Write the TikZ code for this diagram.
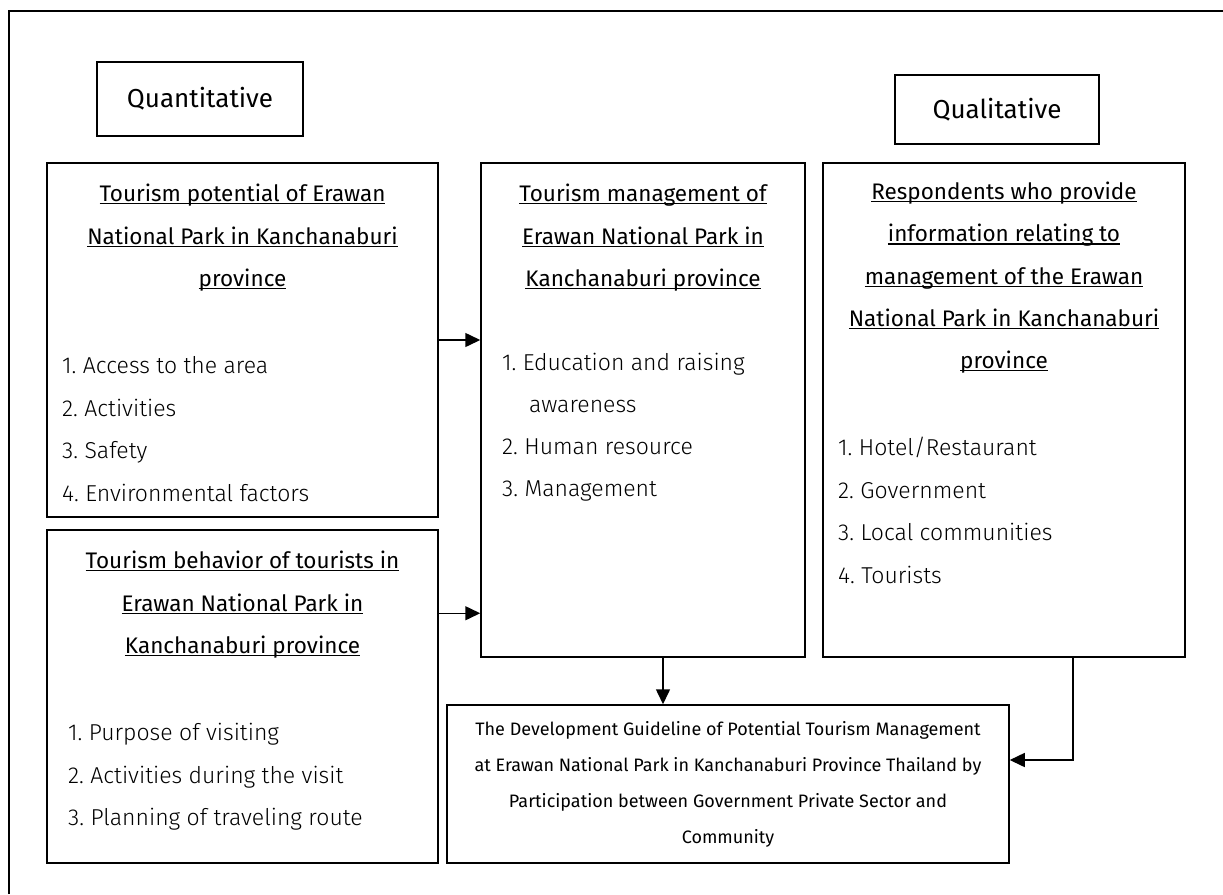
\documentclass[tikz,border=0pt]{standalone}
\usepackage{fontspec}
\setmainfont{Fira Sans}
\newfontfamily\lightfont{Fira Sans Light}
\usetikzlibrary{arrows.meta,calc}

\newsavebox\ulbox
\newcommand\ulined[1]{\sbox\ulbox{#1}\rlap{\rule[-2.8pt]{\wd\ulbox}{1.3pt}}\usebox\ulbox}

\tikzset{
  frame/.style={draw, line width=1.8pt},
  box/.style={draw, line width=1.5pt, inner sep=0pt},
  big/.style={font=\fontsize{26}{30}\selectfont},
  head/.style={font=\fontsize{22.5}{26}\selectfont, inner sep=0pt, text height=16pt, text depth=5pt},
  item/.style={font=\lightfont\fontsize{23}{26}\selectfont, anchor=west, inner sep=0pt, text height=16pt, text depth=5pt},
  small/.style={font=\fontsize{18}{36}\selectfont, align=center},
  arr/.style={line width=1.5pt, -{Triangle[length=15pt,width=14pt]}}
}

\begin{document}
\begin{tikzpicture}[x=1pt, y=-1pt]
    \useasboundingbox (0,0) rectangle (1223,894);
    \draw[frame] (9,894) -- (9,11) -- (1223,11);

    \node[box, big, minimum width=206, minimum height=74] (quant) at (200,99) {Quantitative};
    \node[box, big, minimum width=204, minimum height=69] (qual) at (997,109.5) {Qualitative};

    \node[box, minimum width=391, minimum height=354] (pot) at (242.5,340) {};
    \node[box, minimum width=391, minimum height=333] (beh) at (242.5,696.5) {};
    \node[box, minimum width=324, minimum height=494] (man) at (643,410) {};
    \node[box, minimum width=362, minimum height=494] (resp) at (1004,410) {};
    \node[box, minimum width=562, minimum height=158] (guide) at (728,784) {};

    \foreach \t [count=\i from 0] in {Tourism potential of Erawan, National Park in Kanchanaburi, province}
        \node[head] (potT\i) at (242.5,{196+42.5*\i}) {\ulined{\t}};
    \foreach \t [count=\i] in {Access to the area, Activities, Safety, Environmental factors}
        \node[item] (potI\i) at (62,{368+42.5*(\i-1)}) {\i.\ \t};

    \foreach \t [count=\i from 0] in {Tourism behavior of tourists in, Erawan National Park in, Kanchanaburi province}
        \node[head] (behT\i) at (242.5,{563+42.5*\i}) {\ulined{\t}};
    \foreach \t [count=\i] in {Purpose of visiting, Activities during the visit, Planning of traveling route}
        \node[item] (behI\i) at (68,{735+42.5*(\i-1)}) {\i.\ \t};

    \foreach \t [count=\i from 0] in {Tourism management of, Erawan National Park in, Kanchanaburi province}
        \node[head] (manT\i) at (643,{196+42.5*\i}) {\ulined{\t}};
    \node[item] (manI1) at (502,365) {1.\ Education and raising};
    \node[item] (manI1b) at (529,407) {awareness};
    \node[item] (manI2) at (502,449) {2.\ Human resource};
    \node[item] (manI3) at (502,491) {3.\ Management};

    \foreach \t [count=\i from 0] in {Respondents who provide, information relating to, management of the Erawan, National Park in Kanchanaburi, province}
        \node[head] (respT\i) at (1004,{194+42.25*\i}) {\ulined{\t}};
    \foreach \t [count=\i] in {Hotel/Restaurant, Government, Local communities, Tourists}
        \node[item] (respI\i) at (838,{450+42.5*(\i-1)}) {\i.\ \t};

    \node[small] (guideT) at (guide) {The Development Guideline of Potential Tourism Management\\
        at Erawan National Park in Kanchanaburi Province Thailand by\\
        Participation between Government Private Sector and\\
        Community};

    \draw[arr] (pot.east) -- (pot.east -| man.west);
    \coordinate (b1) at ($(beh.north east)+(0,84)$);
    \draw[arr] (b1) -- (b1 -| man.west);
    \coordinate (c1) at ($(man.south)+(20,0)$);
    \draw[arr] (c1) -- (c1 |- guide.north);
    \coordinate (d1) at ($(resp.south)+(69,0)$);
    \coordinate (e1) at ($(guide.east)+(0,-24)$);
    \draw[arr] (d1) |- (e1);
\end{tikzpicture}
\end{document}
